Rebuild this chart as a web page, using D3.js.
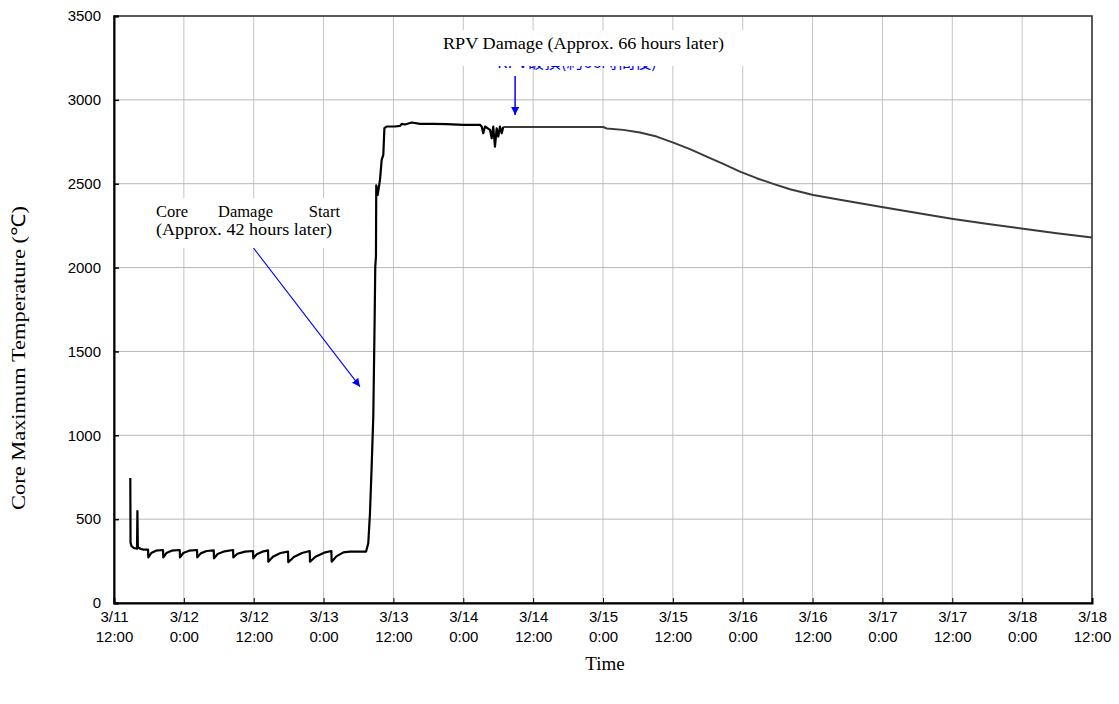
<!DOCTYPE html>
<html>
<head>
<meta charset="utf-8">
<script src="https://cdn.jsdelivr.net/npm/d3@7"></script>
<style>
  html, body { margin: 0; padding: 0; background: #fff; }
  svg { display: block; }
</style>
</head>
<body>
<svg id="chart" width="1119" height="704"></svg>
<script>
// ---- data (hours after 3/11 12:00, core maximum temperature in °C) ----
const hours = [
  2.80, 2.84, 3.00, 3.40, 3.95, 4.02, 4.10, 4.60, 5.10, 5.85,
  5.90, 6.40, 7.20, 8.42, 8.47, 9.00, 9.90, 11.29, 11.34, 11.90,
  12.90, 14.26, 14.31, 14.90, 15.90, 17.13, 17.18, 17.80, 19.00, 20.45,
  20.50, 21.20, 22.50, 23.88, 23.93, 24.50, 25.50, 26.46, 26.51, 27.30,
  28.60, 29.89, 29.94, 30.90, 32.30, 33.62, 33.67, 34.60, 36.10, 37.34,
  37.39, 38.20, 39.40, 40.50, 43.29, 43.68, 43.97, 44.26, 44.54, 44.66,
  44.78, 44.88, 45.00, 45.05, 45.30, 45.69, 45.98, 46.26, 46.45, 46.84,
  48.27, 49.13, 49.42, 49.98, 51.14, 52.56, 54.85, 57.15, 60.00, 62.87,
  63.16, 63.43, 63.73, 64.59, 64.88, 65.15, 65.44, 65.74, 66.01, 66.30,
  66.60, 66.87, 84.05, 84.63, 87.48, 90.35, 93.22, 96.07, 98.94, 101.81,
  104.66, 107.53, 110.40, 113.25, 116.12, 120.12, 124.70, 132.14, 139.01, 144.17,
  150.47, 156.19, 161.93, 168.00
];
const temps = [
  745, 360, 340, 328, 324, 548, 332, 322, 318, 318,
  272, 298, 312, 316, 272, 298, 312, 316, 272, 298,
  312, 316, 272, 296, 310, 314, 266, 292, 308, 316,
  272, 294, 306, 310, 266, 290, 306, 314, 246, 276,
  298, 306, 243, 274, 298, 310, 246, 276, 300, 310,
  246, 278, 302, 306, 306, 356, 535, 813, 1111, 1409,
  1707, 2006, 2065, 2490, 2433, 2523, 2642, 2672, 2831, 2841,
  2841, 2845, 2857, 2853, 2865, 2857, 2857, 2855, 2851, 2851,
  2841, 2801, 2841, 2821, 2771, 2841, 2721, 2830, 2781, 2841,
  2801, 2838, 2838, 2829, 2821, 2805, 2781, 2745, 2706, 2662,
  2618, 2572, 2533, 2499, 2467, 2433, 2404, 2360, 2320, 2290,
  2258, 2231, 2205, 2179
];
const xTickHours = [0, 12, 24, 36, 48, 60, 72, 84, 96, 108, 120, 132, 144, 156, 168];
const xTickDates = ["3/11", "3/12", "3/12", "3/13", "3/13", "3/14", "3/14", "3/15", "3/15", "3/16", "3/16", "3/17", "3/17", "3/18", "3/18"];
const xTickTimes = ["12:00", "0:00", "12:00", "0:00", "12:00", "0:00", "12:00", "0:00", "12:00", "0:00", "12:00", "0:00", "12:00", "0:00", "12:00"];
const yTicks = [0, 500, 1000, 1500, 2000, 2500, 3000, 3500];
const yTitle = "Core Maximum Temperature (℃)";
const xTitle = "Time";
const coreNoteLine1 = ["Core", "Damage", "Start"];
const coreNoteLine2 = "(Approx. 42 hours later)";
const coreDamageHour = 45.0;   // where the arrow points
const coreArrowTemp = 1290;
const rpvNote = "RPV Damage (Approx. 66 hours later)";
const rpvNoteJa = "RPV破損(約66時間後)";
const rpvHour = 68.9;

// ---- layout ----
const L = 114, R = 1092, T = 16, B = 603;
const svg = d3.select("#chart");
const x = d3.scaleLinear().domain([0, 168]).range([L, R]);
const y = d3.scaleLinear().domain([0, 3500]).range([B, T]);
const serif = "'Liberation Serif', 'Times New Roman', serif";
const sans = "'Liberation Sans', Arial, sans-serif";

// grid
const grid = svg.append("g");
grid.selectAll("line.v").data(xTickHours.slice(1, -1)).join("line")
  .attr("x1", d => x(d)).attr("x2", d => x(d)).attr("y1", T).attr("y2", B)
  .attr("stroke", "#c4c4c4").attr("stroke-width", 1);
grid.selectAll("line.h").data(yTicks.slice(1, -1)).join("line")
  .attr("x1", L).attr("x2", R).attr("y1", d => y(d)).attr("y2", d => y(d))
  .attr("stroke", "#b8b8b8").attr("stroke-width", 1);

// white label boxes (covering grid)
svg.append("rect").attr("x", 150).attr("y", 198).attr("width", 196).attr("height", 50).attr("fill", "#fff");

// hidden Japanese label (mostly covered)
svg.append("text").attr("x", 577).attr("y", 68).attr("text-anchor", "middle")
  .attr("textLength", 160).attr("lengthAdjust", "spacingAndGlyphs")
  .attr("font-family", "'Noto Sans CJK JP'").attr("font-size", 16).attr("fill", "#0000ff")
  .text(rpvNoteJa);
svg.append("rect").attr("x", 424).attr("y", 30).attr("width", 378).attr("height", 36).attr("fill", "#fff");

// frame
svg.append("rect").attr("x", L).attr("y", T).attr("width", R - L).attr("height", B - T)
  .attr("fill", "none").attr("stroke", "#333").attr("stroke-width", 1.6);

// axes
const yAxis = d3.axisLeft(y).tickValues(yTicks).tickSize(-5).tickPadding(13).tickFormat(d3.format("d"));
const gy = svg.append("g").attr("transform", `translate(${L},0)`).call(yAxis);
gy.select(".domain").attr("stroke", "#000").attr("stroke-width", 2);
gy.selectAll(".tick line").attr("stroke", "#000").attr("stroke-width", 1.5);
gy.selectAll(".tick text").attr("font-family", sans).attr("font-size", 15).attr("fill", "#000");

const xAxis = d3.axisBottom(x).tickValues(xTickHours).tickSize(-5).tickFormat("");
const gx = svg.append("g").attr("transform", `translate(0,${B})`).call(xAxis);
gx.select(".domain").attr("stroke", "#000").attr("stroke-width", 2);
gx.selectAll(".tick line").attr("stroke", "#000").attr("stroke-width", 1);
gx.selectAll(".tick text").remove();
gx.selectAll(".tick").each(function(d, i) {
  const t = d3.select(this).append("text")
    .attr("font-family", sans).attr("font-size", 15)
    .attr("fill", "#000").attr("text-anchor", "middle");
  t.append("tspan").attr("x", 0).attr("y", 19).text(xTickDates[i]);
  t.append("tspan").attr("x", 0).attr("y", 39).text(xTickTimes[i]);
});

// data line
const line = d3.line().x(d => x(d[0])).y(d => y(d[1]));
const pts = hours.map((h, i) => [h, temps[i]]);
const split = 66.87;
svg.append("path").datum(pts.filter(d => d[0] >= split))
  .attr("d", line).attr("fill", "none").attr("stroke", "#3a3a3a").attr("stroke-width", 2)
  .attr("stroke-linejoin", "round");
svg.append("path").datum(pts.filter(d => d[0] <= split))
  .attr("d", line).attr("fill", "none").attr("stroke", "#000").attr("stroke-width", 2.2)
  .attr("stroke-linejoin", "round");

// titles
svg.append("text").attr("transform", "translate(25,358) rotate(-90)").attr("text-anchor", "middle")
  .attr("textLength", 304).attr("lengthAdjust", "spacingAndGlyphs")
  .attr("font-family", serif).attr("font-size", 19).attr("fill", "#000")
  .text(yTitle);
svg.append("text").attr("x", 605).attr("y", 670).attr("text-anchor", "middle")
  .attr("font-family", serif).attr("font-size", 19).attr("fill", "#000")
  .text(xTitle);

// annotations
const w1 = [[156, "start"], [245.5, "middle"], [340, "end"]];
coreNoteLine1.forEach((w, i) => {
  svg.append("text").attr("x", w1[i][0]).attr("y", 217).attr("text-anchor", w1[i][1])
    .attr("font-family", serif).attr("font-size", 16.5).attr("fill", "#000").text(w);
});
svg.append("text").attr("x", 156).attr("y", 235).attr("textLength", 176).attr("lengthAdjust", "spacingAndGlyphs")
  .attr("font-family", serif).attr("font-size", 16.5).attr("fill", "#000").text(coreNoteLine2);
svg.append("text").attr("x", 443).attr("y", 49).attr("textLength", 281).attr("lengthAdjust", "spacingAndGlyphs")
  .attr("font-family", serif).attr("font-size", 16.5).attr("fill", "#000").text(rpvNote);

const defs = svg.append("defs");
defs.append("marker").attr("id", "arr").attr("viewBox", "0 0 10 10").attr("refX", 10).attr("refY", 5)
  .attr("markerWidth", 8).attr("markerHeight", 8).attr("markerUnits", "userSpaceOnUse").attr("orient", "auto")
  .append("path").attr("d", "M0,0 L10,5 L0,10 Z").attr("fill", "#0000ff");

svg.append("line").attr("x1", 253.5).attr("y1", 248).attr("x2", x(coreDamageHour) - 16).attr("y2", y(coreArrowTemp))
  .attr("stroke", "#0000ff").attr("stroke-width", 1.1).attr("marker-end", "url(#arr)");
svg.append("line").attr("x1", x(rpvHour)).attr("y1", 76).attr("x2", x(rpvHour)).attr("y2", 115)
  .attr("stroke", "#0000ff").attr("stroke-width", 1.5).attr("marker-end", "url(#arr)");
</script>
</body>
</html>
